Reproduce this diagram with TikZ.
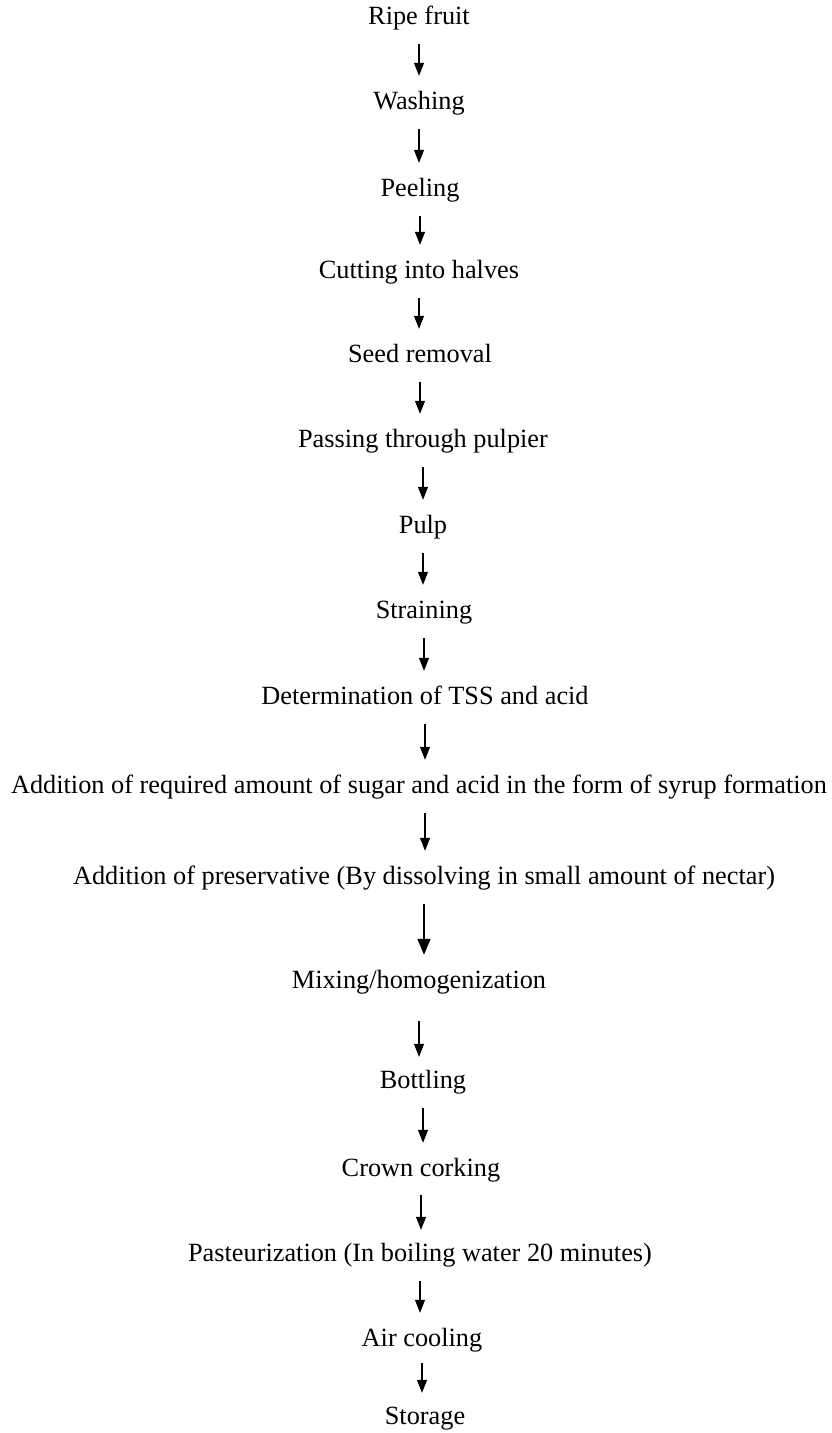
\documentclass[tikz,border=0pt]{standalone}
\usepackage{fontspec}
\setmainfont{Liberation Serif}
\usepackage{tikz}
\usetikzlibrary{arrows.meta}

\begin{document}
\begin{tikzpicture}[x=1pt,y=-1pt,
    stage/.style={inner sep=0pt,text height=17pt,text depth=5pt,font=\fontsize{26.3}{31}\selectfont},
    flow/.style={-{Triangle[length=13pt,width=10pt]},line width=1.2pt,shorten <=15pt,shorten >=16pt},
    bigflow/.style={flow,-{Triangle[length=16pt,width=13pt]},line width=1.6pt}]

    \useasboundingbox (0,0) rectangle (831,1433);

    \node[stage]         (ripe) at (419, 18)        {Ripe fruit};
    \node[stage]         (wash) at (419, 103)       {Washing};
    \node[stage]         (peel) at (420, 190)       {Peeling};
    \node[stage]         (cut) at (419, 272)        {Cutting into halves};
    \node[stage]         (seed) at (420, 356)       {Seed removal};
    \node[stage]         (pass) at (423, 441)       {Passing through pulpier};
    \node[stage]         (pulp) at (423, 527)       {Pulp};
    \node[stage]         (strain) at (424, 612)     {Straining};
    \node[stage]         (tss) at (425, 698)        {Determination of TSS and acid};
    \node[stage]         (sugar) at (419, 787)      {Addition of required amount of sugar and acid in the form of syrup formation};
    \node[stage]         (pres) at (424, 878)       {Addition of preservative (By dissolving in small amount of nectar)};
    \node[stage]         (mix) at (419, 982)        {Mixing/homogenization};
    \node[stage]         (bottle) at (423, 1082)    {Bottling};
    \node[stage]         (crown) at (421, 1170)     {Crown corking};
    \node[stage]         (past) at (420, 1255)      {Pasteurization (In boiling water 20 minutes)};
    \node[stage]         (air) at (422, 1340)       {Air cooling};
    \node[stage]         (store) at (425, 1418)     {Storage};

    \draw[flow] (ripe.south) -- (ripe.south |- wash.north);
    \draw[flow] (wash.south) -- (wash.south |- peel.north);
    \draw[flow] (peel.south) -- (peel.south |- cut.north);
    \draw[flow] (cut.south) -- (cut.south |- seed.north);
    \draw[flow] (seed.south) -- (seed.south |- pass.north);
    \draw[flow] (pass.south) -- (pass.south |- pulp.north);
    \draw[flow] (pulp.south) -- (pulp.south |- strain.north);
    \draw[flow] (strain.south) -- (strain.south |- tss.north);
    \draw[flow] (tss.south) -- (tss.south |- sugar.north);
    \draw[flow] ([xshift=6pt]sugar.south) -- ([xshift=6pt]sugar.south |- pres.north);
    \draw[bigflow] (pres.south) -- (pres.south |- mix.north);
    \draw[flow,shorten <=28pt,shorten >=14pt] (mix.south) -- (mix.south |- bottle.north);
    \draw[flow] (bottle.south) -- (bottle.south |- crown.north);
    \draw[flow,shorten <=14pt,shorten >=14pt] (crown.south) -- (crown.south |- past.north);
    \draw[flow] (past.south) -- (past.south |- air.north);
    \draw[flow,shorten <=12pt,shorten >=14pt] (air.south) -- (air.south |- store.north);
\end{tikzpicture}
\end{document}
